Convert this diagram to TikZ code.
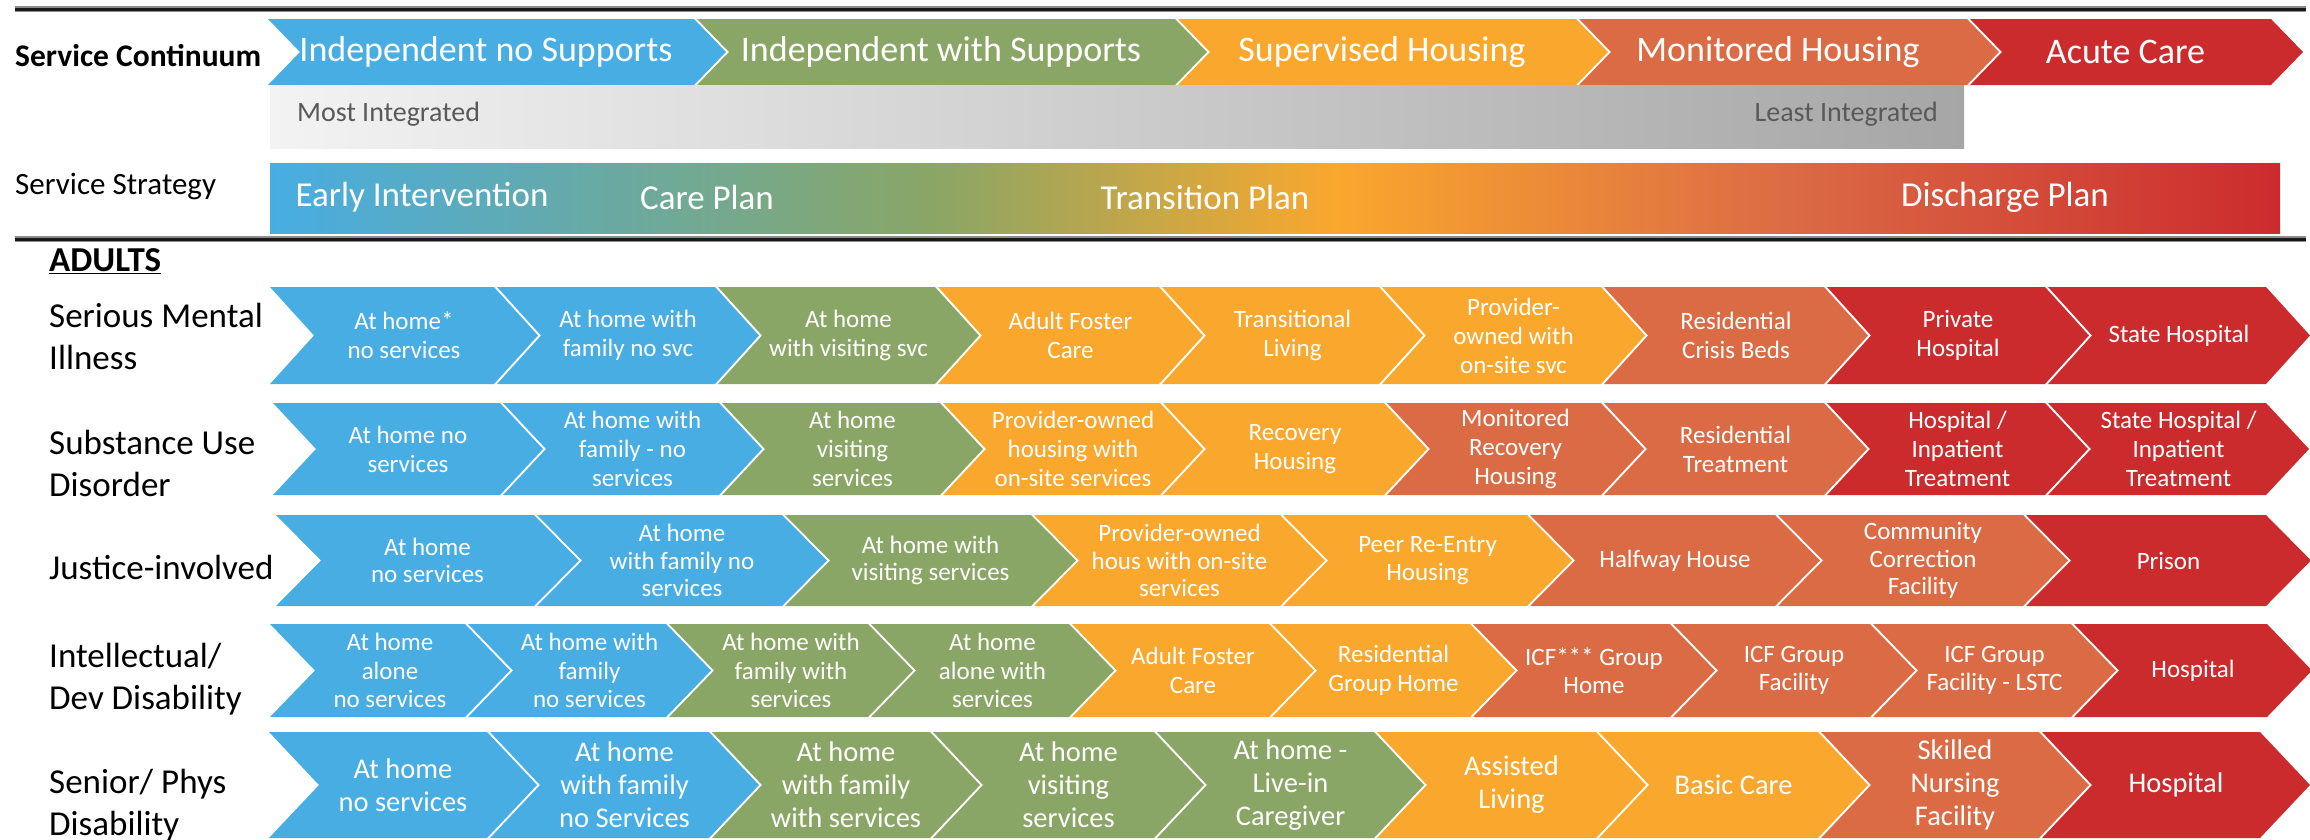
\documentclass[tikz,border=0pt]{standalone}
\usepackage{fontspec}
\setmainfont{Carlito}
\definecolor{cblu}{RGB}{71,173,226}
\definecolor{cgrn}{RGB}{138,166,102}
\definecolor{corg}{RGB}{250,167,45}
\definecolor{cord}{RGB}{219,107,69}
\definecolor{cred}{RGB}{204,43,45}
\definecolor{gL}{RGB}{243,243,243}
\definecolor{gR}{RGB}{166,166,166}
\definecolor{gtxt}{RGB}{89,89,89}
\pgfdeclarehorizontalshading{stratshade}{100bp}{color(0bp)=(cblu); color(25bp)=(cblu); color(41.5bp)=(cgrn); color(51.5bp)=(corg); color(62.7bp)=(cord); color(75bp)=(cred); color(100bp)=(cred)}
\newcommand{\cvF}{\fontsize{25}{29}\selectfont}
\newcommand{\cvT}{0}
\newcommand{\cvB}{0}
\newcommand{\cvD}{0}
\newcommand{\cvO}{0}
% #1 name, #2 start, #3 end (top-right), #4 colour, #5 text
\newcommand{\chv}[5]{%
  \fill[#4] (#2,\cvT) -- (#3,\cvT) -- ({#3+\cvD},{(\cvT+\cvB)/2}) -- (#3,\cvB) -- (#2,\cvB) -- ({#2+\cvD},{(\cvT+\cvB)/2}) -- cycle;
  \node[chevtext,font=\cvF] (#1) at ({(#2+#3+\cvD)/2+\cvO},{(\cvT+\cvB)/2}) {#5};
}
\tikzset{
  chevtext/.style={text=white, align=center, inner sep=0pt},
  lbl/.style={text=black, inner sep=0pt, anchor=west, align=left, font=\fontsize{35}{42}\selectfont},
  sepline/.style={line width=5.5pt, draw=black!45},
  sepcore/.style={line width=3pt, draw=black!90},
}
\begin{document}
\begin{tikzpicture}[x=1pt,y=-1pt]
\useasboundingbox (0,0) rectangle (2310,839);
% separator lines
\coordinate (t1) at (15,9); \coordinate (t2) at (2306,9);
\coordinate (b1) at (15,239); \coordinate (b2) at (2306,239);
\draw[sepline] (t1) -- (t2); \draw[sepcore] (t1) -- (t2);
\draw[sepline] (b1) -- (b2); \draw[sepcore] (b1) -- (b2);

% ---- header: service continuum
\renewcommand{\cvT}{19}\renewcommand{\cvB}{85}\renewcommand{\cvD}{32}\renewcommand{\cvO}{-11}
\renewcommand{\cvF}{\fontsize{36}{42}\selectfont}
\chv{hA}{268}{694}{cblu}{Independent no Supports}
\chv{hB}{697}{1175}{cgrn}{Independent with Supports}
\chv{hC}{1178}{1576}{corg}{Supervised Housing}
\chv{hD}{1579}{1967}{cord}{Monitored Housing}
\chv{hE}{1970}{2271}{cred}{Acute Care}
\renewcommand{\cvO}{0}

% gray integration bar
\shade[left color=gL, right color=gR] (270,85) rectangle (1964,148);
\node[inner sep=0pt, anchor=mid west, text=gtxt, font=\fontsize{28}{33}\selectfont] (most) at (297,119) {Most Integrated};
\node[inner sep=0pt, anchor=mid east, text=gtxt, font=\fontsize{28}{33}\selectfont] (least) at (1938,119) {Least Integrated};

% strategy bar
\shade[shading=stratshade] (270,163) rectangle (2280,233);
\node[chevtext, font=\fontsize{35}{42}\selectfont] (s1) at (422,197) {Early Intervention};
\node[chevtext, font=\fontsize{35}{42}\selectfont] (s2) at (707,197) {Care Plan};
\node[chevtext, font=\fontsize{35}{42}\selectfont] (s3) at (1205,197) {Transition Plan};
\node[chevtext, font=\fontsize{35}{42}\selectfont] (s4) at (2005,197) {Discharge Plan};

% left labels
\node[inner sep=0pt, anchor=mid west, font=\bfseries\fontsize{31.5}{38}\selectfont] (lsc) at (15,64) {Service Continuum};
\node[inner sep=0pt, anchor=mid west, font=\fontsize{31}{37}\selectfont] (lss) at (15,192) {Service Strategy};
\node[inner sep=0pt, anchor=mid west, font=\bfseries\fontsize{35}{42}\selectfont] (ladults) at (49,269) {\underline{ADULTS}};
\node[lbl] (lsmi) at (49,336) {Serious Mental\\Illness};
\node[lbl] (lsud) at (49,463) {Substance Use\\Disorder};
\node[lbl] (ljus) at (49,567) {Justice-involved};
\node[lbl] (lid) at (49,679) {Intellectual/\\Dev Disability};
\node[lbl] (lsen) at (49,805) {Senior/ Phys\\Disability};

% ---- Serious Mental Illness
\renewcommand{\cvT}{287}\renewcommand{\cvB}{384}\renewcommand{\cvD}{44}
\renewcommand{\cvF}{\fontsize{25}{29}\selectfont}
\chv{m1}{270}{494}{cblu}{At home*\\no services}
\chv{m2}{497}{715}{cblu}{At home with\\family no svc}
\chv{m3}{718}{935}{cgrn}{At home\\with visiting svc}
\chv{m4}{938}{1159}{corg}{Adult Foster\\Care}
\chv{m5}{1162}{1379}{corg}{Transitional\\Living}
\chv{m6}{1382}{1601}{corg}{Provider-\\owned with\\on-site svc}
\chv{m7}{1604}{1824}{cord}{Residential\\Crisis Beds}
\chv{m8}{1827}{2045}{cred}{Private\\Hospital}
\chv{m9}{2048}{2266}{cred}{State Hospital}

% ---- Substance Use Disorder
\renewcommand{\cvT}{403}\renewcommand{\cvB}{495}\renewcommand{\cvD}{43}
\renewcommand{\cvF}{\fontsize{25}{29}\selectfont}
\chv{u1}{273}{500}{cblu}{At home no\\services}
\chv{u2}{503}{719}{cblu}{At home with\\family - no\\services}
\chv{u3}{722}{940}{cgrn}{At home\\visiting\\services}
\chv{u4}{943}{1160}{corg}{Provider-owned\\housing with\\on-site services}
\chv{u5}{1163}{1384}{corg}{Recovery\\Housing}
\chv{u6}{1387}{1601}{cord}{Monitored\\Recovery\\Housing}
\chv{u7}{1604}{1824}{cord}{Residential\\Treatment}
\chv{u8}{1827}{2045}{cred}{Hospital /\\Inpatient\\Treatment}
\chv{u9}{2048}{2266}{cred}{State Hospital /\\Inpatient\\Treatment}

% ---- Justice-involved
\renewcommand{\cvT}{515}\renewcommand{\cvB}{606}\renewcommand{\cvD}{45}
\renewcommand{\cvF}{\fontsize{25}{27.5}\selectfont}
\chv{j1}{276}{534}{cblu}{At home\\no services}
\chv{j2}{537}{782}{cblu}{At home\\with family no\\services}
\chv{j3}{785}{1031}{cgrn}{At home with\\visiting services}
\chv{j4}{1034}{1280}{corg}{Provider-owned\\hous with on-site\\services}
\chv{j5}{1283}{1527}{corg}{Peer Re-Entry\\Housing}
\chv{j6}{1530}{1775}{cord}{Halfway House}
\chv{j7}{1778}{2023}{cord}{Community\\Correction\\Facility}
\chv{j8}{2026}{2266}{cred}{Prison}

% ---- Intellectual / Dev Disability
\renewcommand{\cvT}{624}\renewcommand{\cvB}{717}\renewcommand{\cvD}{45}
\renewcommand{\cvF}{\fontsize{25}{28.5}\selectfont}
\chv{d1}{270}{465}{cblu}{At home\\alone\\no services}
\chv{d2}{468}{666}{cblu}{At home with\\family\\no services}
\chv{d3}{669}{868}{cgrn}{At home with\\family with\\services}
\chv{d4}{871}{1069}{cgrn}{At home\\alone with\\services}
\chv{d5}{1072}{1269}{corg}{Adult Foster\\Care}
\chv{d6}{1272}{1470}{corg}{Residential\\Group Home}
\chv{d7}{1473}{1670}{cord}{ICF*** Group\\Home}
\chv{d8}{1673}{1870}{cord}{ICF Group\\Facility}
\chv{d9}{1873}{2071}{cord}{ICF Group\\Facility - LSTC}
\chv{d10}{2074}{2267}{cred}{Hospital}

% ---- Senior / Phys Disability
\renewcommand{\cvT}{732}\renewcommand{\cvB}{838}\renewcommand{\cvD}{50}
\renewcommand{\cvF}{\fontsize{28.5}{33}\selectfont}
\chv{p1}{269}{487}{cblu}{At home\\no services}
\chv{p2}{490}{709}{cblu}{At home\\with family\\no Services}
\chv{p3}{712}{930}{cgrn}{At home\\with family\\with services}
\chv{p4}{933}{1154}{cgrn}{At home\\visiting\\services}
\chv{p5}{1157}{1374}{cgrn}{At home -\\Live-in\\Caregiver}
\chv{p6}{1377}{1596}{corg}{Assisted\\Living}
\chv{p7}{1599}{1818}{corg}{Basic Care}
\chv{p8}{1821}{2039}{cord}{Skilled\\Nursing\\Facility}
\chv{p9}{2042}{2260}{cred}{Hospital}
\end{tikzpicture}
\end{document}
